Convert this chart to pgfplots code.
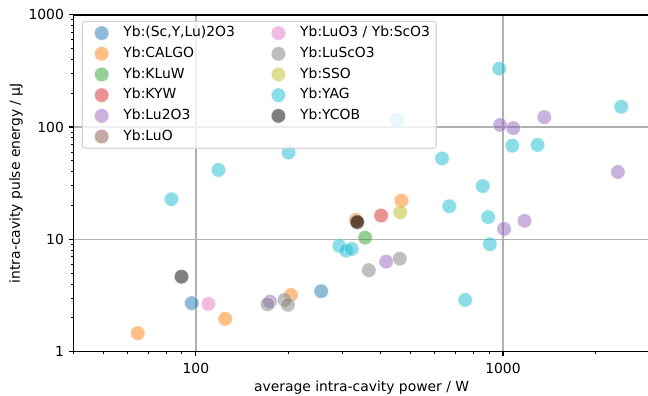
\documentclass[border=0pt]{standalone}
\usepackage{fontspec}
\setmainfont{DejaVu Sans}
\usepackage{pgfplots}
\pgfplotsset{compat=1.18}
\definecolor{tabblue}{HTML}{1F77B4}
\definecolor{taborange}{HTML}{FF7F0E}
\definecolor{tabgreen}{HTML}{2CA02C}
\definecolor{tabred}{HTML}{D62728}
\definecolor{tabpurple}{HTML}{9467BD}
\definecolor{tabbrown}{HTML}{8C564B}
\definecolor{tabpink}{HTML}{E377C2}
\definecolor{tabgray}{HTML}{7F7F7F}
\definecolor{tabolive}{HTML}{BCBD22}
\definecolor{tabcyan}{HTML}{17BECF}
\definecolor{gridgray}{HTML}{B0B0B0}
\definecolor{legendgray}{HTML}{CCCCCC}
\pgfplotsset{
  pt/.style={only marks, mark=*, mark size=5.2bp,
    mark options={fill=#1, draw=white, line width=0.5bp, fill opacity=0.5, draw opacity=0.5},
    legend image code/.code={\path[draw=none, fill=none] (0bp,0bp) (25.2bp,0bp);\draw[##1, /tikz/only marks] plot coordinates {(13bp,0bp)};}},
}
\begin{document}
\begin{tikzpicture}
\begin{axis}[
  scale only axis,
  width=414.7bp, height=242.6bp,
  xmode=log, ymode=log,
  xmin=40, xmax=3000, ymin=1, ymax=1000,
  xtick={100,1000}, xticklabels={\mbox{100},\mbox{1000}},
  ytick={1,10,100,1000}, yticklabels={\mbox{1},\mbox{10},\mbox{100},\mbox{1000}},
  minor xtick={40,50,60,70,80,90,200,300,400,500,600,700,800,900,2000,3000},
  minor ytick={2,3,4,5,6,7,8,9,20,30,40,50,60,70,80,90,200,300,400,500,600,700,800,900},
  tick pos=left, tick align=outside,
  major tick length=3.5bp, minor tick length=2bp,
  every tick/.style={black, line width=0.8bp},
  every minor tick/.style={black, line width=0.6bp},
  grid=major,
  major grid style={color=gridgray, line width=1.1bp},
  axis line style={line width=1.2bp},
  tick label style={font=\fontsize{10bp}{12bp}\selectfont},
  xticklabel style={yshift=-1bp},
  xlabel={average intra-cavity power / W},
  ylabel={intra-cavity pulse energy / µJ},
  label style={font=\fontsize{10bp}{12bp}\selectfont},
  xlabel style={at={(axis description cs:0.5,-0.117)}, anchor=base},
  ylabel style={at={(axis description cs:-0.0931,0.5)}, anchor=base},
  legend columns=2,
  legend cell align=left,
  legend style={at={(0.014,0.982)}, anchor=north west,
    draw=legendgray, line width=0.8bp, rounded corners=2bp,
    fill=white, fill opacity=0.8, text opacity=1, draw opacity=0.8,
    inner sep=1bp,
    font=\fontsize{10bp}{12bp}\selectfont,
    nodes={inner xsep=3.5bp, inner ysep=0bp, text height=10bp, text depth=4.9bp},
    /tikz/every even column/.append style={column sep=14.8bp}},
]
\addplot[pt=tabblue, forget plot] coordinates {(97.0,2.70) (255.9,3.45)};
\addplot[pt=taborange, forget plot] coordinates {(64.7,1.46) (124.6,1.96) (204,3.20) (332,14.9) (467,22.1)};
\addplot[pt=tabgreen, forget plot] coordinates {(355.8,10.35)};
\addplot[pt=tabred, forget plot] coordinates {(401,16.3)};
\addplot[pt=tabpurple, forget plot] coordinates {(174.3,2.79) (416.6,6.33) (979,104.4) (1080,97.8) (1363,122.5) (2366,39.8) (1175,14.6) (1008,12.38)};
\addplot[pt=tabbrown, forget plot] coordinates {(336,14.1)};
\addplot[pt=tabpink, forget plot] coordinates {(109.9,2.66)};
\addplot[pt=tabgray, forget plot] coordinates {(171.2,2.64) (194.5,2.89) (199.5,2.61) (365.6,5.31) (461.4,6.73)};
\addplot[pt=tabolive, forget plot] coordinates {(462.8,17.4)};
\addplot[pt=tabcyan, forget plot] coordinates {(83.3,22.75) (118.5,41.5) (200.5,59.2) (293.4,8.74) (308.5,7.93) (321.8,8.21) (452,115.2) (633.6,52.5) (668.8,19.7) (753.5,2.89) (859.6,29.8) (894.5,15.77) (906,9.04) (972.5,331) (1072,68.2) (1296,69.3) (2426,151.6)};
\addplot[pt=black, forget plot] coordinates {(89.8,4.65) (335,14.3)};
% legend, in matplotlib's column-wise order
\addlegendimage{pt=tabblue}\addlegendentry{Yb:(Sc,Y,Lu)2O3}
\addlegendimage{pt=tabpink}\addlegendentry{Yb:LuO3 / Yb:ScO3}
\addlegendimage{pt=taborange}\addlegendentry{Yb:CALGO}
\addlegendimage{pt=tabgray}\addlegendentry{Yb:LuScO3}
\addlegendimage{pt=tabgreen}\addlegendentry{Yb:KLuW}
\addlegendimage{pt=tabolive}\addlegendentry{Yb:SSO}
\addlegendimage{pt=tabred}\addlegendentry{Yb:KYW}
\addlegendimage{pt=tabcyan}\addlegendentry{Yb:YAG}
\addlegendimage{pt=tabpurple}\addlegendentry{Yb:Lu2O3}
\addlegendimage{pt=black}\addlegendentry{Yb:YCOB}
\addlegendimage{pt=tabbrown}\addlegendentry{Yb:LuO}
\end{axis}
\pgfresetboundingbox
\path (-53bp,-31.9bp) rectangle (413.6bp,253.2bp);
\end{tikzpicture}
\end{document}
